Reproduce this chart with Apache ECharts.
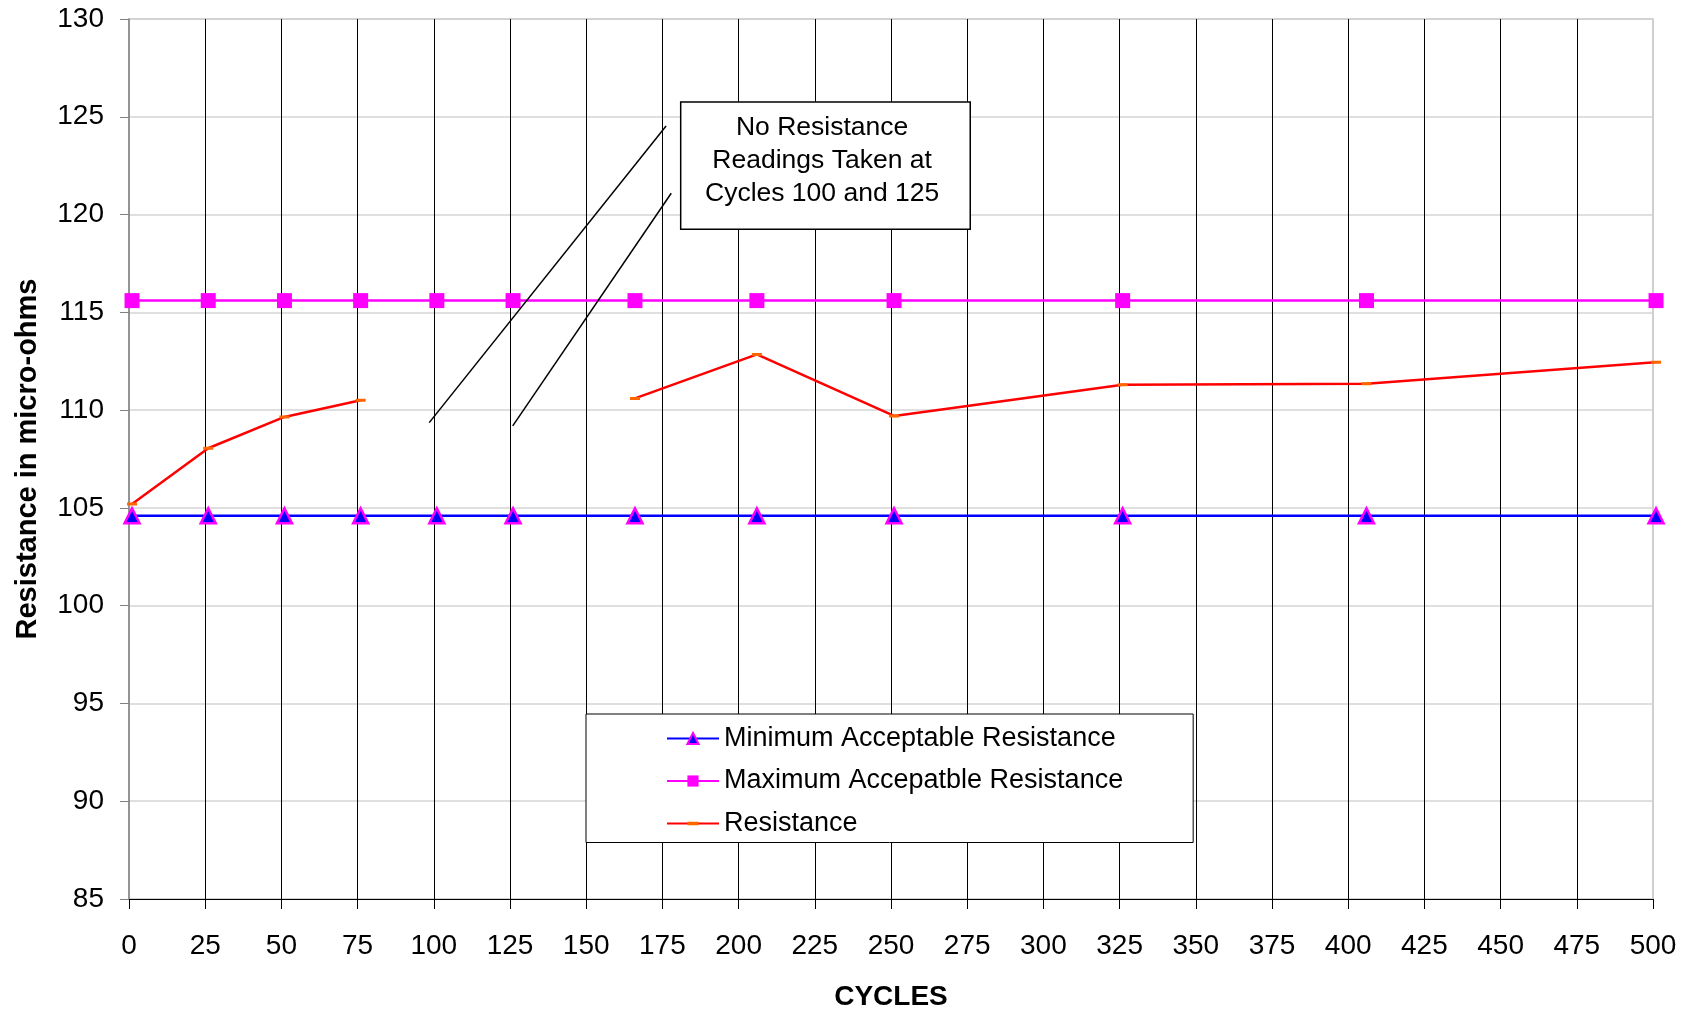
<!DOCTYPE html>
<html>
<head>
<meta charset="utf-8">
<script src="https://cdn.jsdelivr.net/npm/echarts@6/dist/echarts.min.js"></script>
<style>
html, body { margin: 0; padding: 0; background: #fff; }
#container { width: 1692px; height: 1012px; }
</style>
</head>
<body>
<div id="container"></div>
<script>
// cycles where readings were taken (no resistance at 100 and 125)
var cycles = [1, 26, 51, 76, 101, 126, 166, 206, 251, 326, 406, 501];
var minResist = [104.6, 104.6, 104.6, 104.6, 104.6, 104.6, 104.6, 104.6, 104.6, 104.6, 104.6, 104.6];
var maxResist = [115.6, 115.6, 115.6, 115.6, 115.6, 115.6, 115.6, 115.6, 115.6, 115.6, 115.6, 115.6];
var resistance = [105.2, 108.05, 109.65, 110.5, '-', '-', 110.6, 112.85, 109.7, 111.3, 111.35, 112.45];

// annotation, in data units
var noteText = 'No Resistance\nReadings Taken at\nCycles 100 and 125';
var noteBox = [181, 125.75, 276, 119.25];
var noteCenter = [227.4, 122.77];
var noteLines = [
	[[98.5, 109.36], [176.2, 124.53]],
	[[125.9, 109.19], [177.9, 121.09]]
];

var FONT = "'Liberation Sans', Arial, sans-serif";
// small orange dash; the tiny corner dots keep the box square so the legend doesn't stretch it
var DASH = 'path://M0,0L0.01,0L0.01,0.01Z M0,3.5L10,3.5L10,6.5L0,6.5Z M9.99,9.99L10,9.99L10,10Z';

function pairs(ys){
	var out = [];
	for (var i = 0; i < cycles.length; i++) out.push([cycles[i], ys[i]]);
	return out;
}

var chart = echarts.init(document.getElementById('container'));

var option = {
	animation: false,
	backgroundColor: '#fff',
	textStyle: { fontFamily: FONT },
	grid: {
		left: 129, right: 39, top: 19, bottom: 113,
		outerBoundsMode: 'none', containLabel: false,
		show: true, borderColor: '#c0c0c0', borderWidth: 1.5, backgroundColor: 'transparent'
	},
	legend: {
		orient: 'vertical',
		left: 586, top: 714,
		backgroundColor: '#fff',
		borderColor: '#000', borderWidth: 1,
		padding: [9.5, 70, 4, 80],
		itemWidth: 52, itemHeight: 14, itemGap: 12.5,
		textStyle: { fontSize: 27, lineHeight: 30, color: '#000', fontFamily: FONT },
		data: ['Minimum Acceptable Resistance', 'Maximum Accepatble Resistance', 'Resistance']
	},
	xAxis: {
		type: 'value', min: 0, max: 500, interval: 25,
		name: 'CYCLES', nameLocation: 'middle', nameGap: 84,
		nameTextStyle: { fontSize: 28, fontWeight: 'bold', color: '#000', fontFamily: FONT },
		axisLine: { lineStyle: { color: '#000', width: 1 } },
		axisTick: { show: true, length: 10, lineStyle: { color: '#000' } },
		axisLabel: { fontSize: 28, color: '#000', margin: 33, fontFamily: FONT },
		splitLine: { show: true, showMinLine: false, showMaxLine: false, lineStyle: { color: '#000', width: 1 } }
	},
	yAxis: {
		type: 'value', min: 85, max: 130, interval: 5,
		name: 'Resistance in micro-ohms', nameLocation: 'middle', nameGap: 87,
		nameTextStyle: { fontSize: 29, fontWeight: 'bold', color: '#000', fontFamily: FONT },
		axisLine: { show: true, lineStyle: { color: '#808080', width: 1.5 } },
		axisTick: { show: true, length: 9, lineStyle: { color: '#808080' } },
		axisLabel: { fontSize: 28, color: '#000', margin: 25, fontFamily: FONT },
		splitLine: { show: true, lineStyle: { color: '#d4d4d4', width: 1.5 } }
	},
	series: [
		{
			name: 'Minimum Acceptable Resistance',
			type: 'line', clip: false,
			data: pairs(minResist),
			symbol: 'triangle', symbolSize: 15,
			lineStyle: { color: '#0000ff', width: 2.5 },
			itemStyle: { color: '#0000ff', borderColor: '#ff00ff', borderWidth: 2.5 }
		},
		{
			name: 'Maximum Accepatble Resistance',
			type: 'line', clip: false,
			data: pairs(maxResist),
			symbol: 'rect', symbolSize: 15,
			lineStyle: { color: '#ff00ff', width: 2.5 },
			itemStyle: { color: '#ff00ff', borderWidth: 0 }
		},
		{
			name: 'Resistance',
			type: 'line', clip: false,
			connectNulls: false,
			data: pairs(resistance),
			symbol: DASH, symbolSize: 10,
			lineStyle: { color: '#ff0000', width: 2.5 },
			itemStyle: { color: '#ff6600', borderWidth: 0 }
		}
	]
};
chart.setOption(option);

// annotation box and pointer lines
function px(p){ return chart.convertToPixel({ gridIndex: 0 }, p); }
var b1 = px([noteBox[0], noteBox[1]]), b2 = px([noteBox[2], noteBox[3]]);
var c = px(noteCenter);
var graphics = [];
noteLines.forEach(function(l){
	var a = px(l[0]), e = px(l[1]);
	graphics.push({
		type: 'line', z: 100,
		shape: { x1: a[0], y1: a[1], x2: e[0], y2: e[1] },
		style: { stroke: '#000', lineWidth: 1.5 }
	});
});
graphics.push({
	type: 'rect', z: 100,
	shape: { x: b1[0], y: b1[1], width: b2[0] - b1[0], height: b2[1] - b1[1] },
	style: { fill: '#fff', stroke: '#000', lineWidth: 1.5 }
});
graphics.push({
	type: 'text', z: 101,
	x: c[0], y: c[1],
	style: { text: noteText, fill: '#000', fontSize: 26.5, fontFamily: FONT, lineHeight: 33, align: 'center', verticalAlign: 'middle' }
});
chart.setOption({ graphic: graphics });

window.addEventListener('resize', function(){ chart.resize(); });
</script>
</body>
</html>
